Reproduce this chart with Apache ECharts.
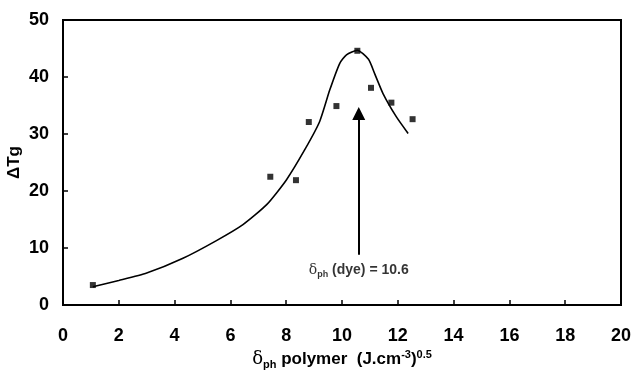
<!DOCTYPE html>
<html>
<head>
<meta charset="utf-8">
<script src="https://cdn.jsdelivr.net/npm/echarts@6/dist/echarts.min.js"></script>
<style>
html,body{margin:0;padding:0;background:#fff;}
#chart{width:634px;height:380px;}
</style>
</head>
<body>
<div id="chart"></div>
<script>
// Measured data points (δph polymer, ΔTg)
var pointX = [1.07, 7.43, 8.35, 8.81, 9.80, 10.55, 11.04, 11.77, 12.53];
var pointY = [3.5, 22.5, 21.9, 32.1, 34.9, 44.6, 38.1, 35.5, 32.6];
// Fitted curve
var curveX = [1.07, 2.0, 3.0, 4.3, 5.5, 6.45, 7.3, 8.0, 8.66, 9.2, 9.56, 9.92, 10.16, 10.55, 10.95, 11.17, 11.47, 11.95, 12.37];
var curveY = [3.2, 4.3, 5.6, 8.2, 11.3, 14.1, 17.6, 21.9, 27.2, 32.2, 37.7, 42.4, 43.9, 44.7, 43.1, 40.6, 37.1, 33.0, 30.1];
// Annotation
var dyeValue = 10.6;
var arrowFrom = 8.8;
var arrowTo = 33.6;
var labelY = 6.1;

var font = 'Liberation Sans, Arial, sans-serif';
var chart = echarts.init(document.getElementById('chart'));
chart.setOption({
  animation: false,
  backgroundColor: '#fff',
  grid: {left: 63, right: 13, top: 20, bottom: 75, show: true, borderColor: '#000', borderWidth: 2, backgroundColor: 'transparent', containLabel: false, outerBoundsMode: 'none'},
  xAxis: {
    type: 'value', min: 0, max: 20, interval: 2,
    axisLine: {lineStyle: {color: '#000', width: 2}},
    axisTick: {inside: true, length: 5, lineStyle: {color: '#000', width: 1.5}},
    splitLine: {show: false},
    axisLabel: {color: '#000', fontFamily: font, fontWeight: 'bold', fontSize: 18, margin: 22},
    name: '{d|δ}{s|ph}{t| polymer  (J.cm}{u|-3}{t|)}{u|0.5}',
    nameLocation: 'middle', nameGap: 44, nameMoveOverlap: false,
    nameTextStyle: {
      rich: {
        d: {fontFamily: 'DejaVu Serif, serif', fontSize: 18, color: '#000', verticalAlign: 'bottom'},
        s: {fontFamily: font, fontWeight: 'bold', fontSize: 11, color: '#000', verticalAlign: 'bottom', padding: [0,0,-2,0]},
        t: {fontFamily: font, fontWeight: 'bold', fontSize: 17, color: '#000', verticalAlign: 'bottom'},
        u: {fontFamily: font, fontWeight: 'bold', fontSize: 11, color: '#000', verticalAlign: 'top', padding: [0,0,8,0]}
      }
    }
  },
  yAxis: {
    type: 'value', min: 0, max: 50, interval: 10,
    axisLine: {lineStyle: {color: '#000', width: 2}},
    axisTick: {inside: true, length: 5, lineStyle: {color: '#000', width: 1.5}},
    splitLine: {show: false},
    axisLabel: {color: '#000', fontFamily: font, fontWeight: 'bold', fontSize: 18, margin: 14},
    name: 'ΔTg', nameLocation: 'middle', nameRotate: 90, nameGap: 40, nameMoveOverlap: false,
    nameTextStyle: {color: '#000', fontFamily: font, fontWeight: 'bold', fontSize: 17}
  },
  series: [
    {
      type: 'line', smooth: 0.2, symbol: 'none',
      data: curveX.map(function(x, i){ return [x, curveY[i]]; }),
      lineStyle: {color: '#000', width: 1.6},
      markLine: {
        silent: true, symbol: ['none', 'triangle'], symbolSize: 13,
        lineStyle: {color: '#000', width: 2, type: 'solid'},
        itemStyle: {color: '#000'},
        label: {show: false},
        data: [[{coord: [dyeValue, arrowFrom]}, {coord: [dyeValue, arrowTo]}]]
      }
    },
    {
      type: 'scatter', symbol: 'rect', symbolSize: 6,
      itemStyle: {color: '#000'},
      data: pointX.map(function(x, i){ return [x, pointY[i]]; })
    },
    {
      type: 'scatter', symbolSize: 0, silent: true,
      data: [[dyeValue, labelY]],
      label: {
        show: true, position: 'inside',
        formatter: '{d|δ}{s|ph}{t| (dye) = ' + dyeValue.toFixed(1) + '}',
        rich: {
          d: {fontFamily: 'DejaVu Serif, serif', fontSize: 14, color: '#000', verticalAlign: 'bottom'},
          s: {fontFamily: font, fontWeight: 'bold', fontSize: 9, color: '#000', verticalAlign: 'bottom', padding: [0,0,-2,0]},
          t: {fontFamily: font, fontWeight: 'bold', fontSize: 14, color: '#000', verticalAlign: 'bottom'}
        }
      }
    }
  ]
});
</script>
</body>
</html>
